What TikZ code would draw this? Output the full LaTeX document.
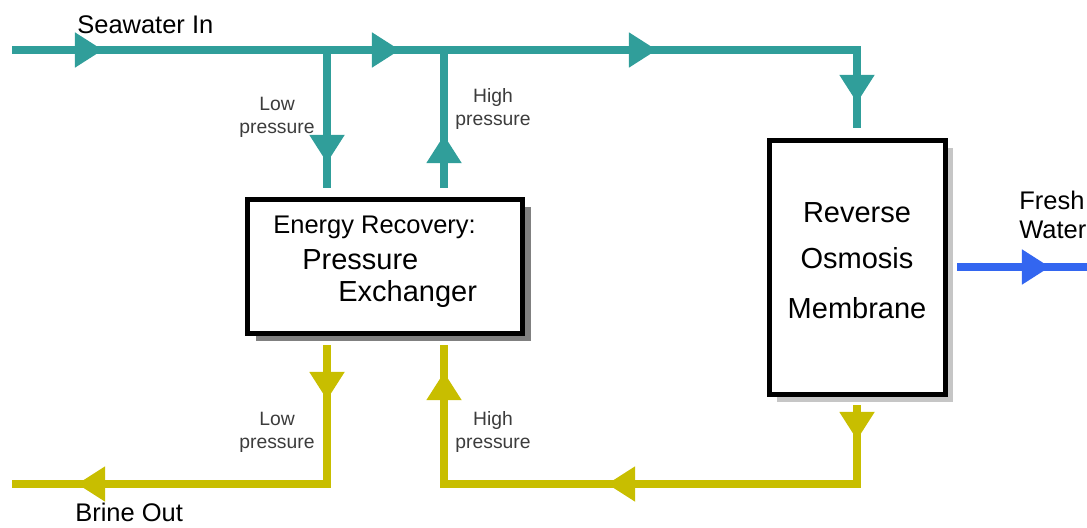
\documentclass[tikz,border=0pt]{standalone}
\usepackage{fontspec}
\setmainfont{Liberation Sans}
\usepackage{xcolor}
\usepackage{tikz}
\usetikzlibrary{arrows.meta,decorations.markings,shadows,positioning}

\definecolor{seateal}{RGB}{48,158,154}
\definecolor{brineyellow}{RGB}{200,190,0}
\definecolor{freshblue}{RGB}{51,102,240}
\definecolor{labelgray}{RGB}{60,60,60}

\begin{document}
\begin{tikzpicture}[
        x=0.02cm, y=-0.02cm,
        boxnode/.style={rectangle, draw=black, line width=2.6pt, fill=white, inner sep=0pt},
        textnode/.style={font=\fontsize{14.5}{17}\selectfont, inner sep=0pt},
        bigtext/.style={font=\fontsize{16.5}{20}\selectfont, inner sep=0pt},
        smalltext/.style={font=\fontsize{11}{13}\selectfont, text=labelgray, align=center, inner sep=0pt},
        pipe/.style={line width=4.3pt},
        flowtip/.style={postaction={decorate, decoration={markings,
            mark=at position #1 with {\arrow{Triangle[length=16pt, width=19pt]}}}}}
    ]
        \useasboundingbox (0,0) rectangle (1087,527);

        % Units
        \node[boxnode, minimum width=5.5cm, minimum height=2.68cm,
            drop shadow={shadow xshift=5pt, shadow yshift=-4pt, fill=gray, opacity=1}] (ER) at (385,266.5) {};
        \node[boxnode, minimum width=3.52cm, minimum height=5.08cm,
            drop shadow={shadow xshift=4pt, shadow yshift=-4pt, fill=gray!45, opacity=1}] (RO) at (857.5,267.5) {};

        \node[textnode, anchor=base west] (ER1) at (273,233) {Energy Recovery:};
        \node[bigtext, anchor=base west] (ER2) at (302,269) {Pressure};
        \node[bigtext, anchor=base west] (ER3) at (338,301) {Exchanger};
        \node[bigtext, anchor=base] (RO1) at (857,222) {Reverse};
        \node[bigtext, anchor=base] (RO2) at (857,268) {Osmosis};
        \node[bigtext, anchor=base] (RO3) at (857,318) {Membrane};

        % Stream names
        \node[textnode, anchor=base west] (sea) at (77,34) {Seawater In};
        \node[textnode, anchor=base west] (brine) at (75,521) {Brine Out};
        \node[textnode, anchor=base west] (fresh) at (1019,209) {Fresh};
        \node[textnode, anchor=base west] (water) at (1019,238) {Water};

        % Pressure labels (base is the lower line)
        \node[smalltext, anchor=base] (lowin) at (277,133) {Low\\pressure};
        \node[smalltext, anchor=base] (highout) at (493,125) {High\\pressure};
        \node[smalltext, anchor=base] (lowout) at (277,448) {Low\\pressure};
        \node[smalltext, anchor=base] (highin) at (493,448) {High\\pressure};

        % Pipe ends and corners
        \coordinate (seain) at (12,50);
        \coordinate (j1) at (327,50);
        \coordinate (j2) at (444,50);
        \coordinate (bend) at (857,50);
        \coordinate (roin) at (857,128);
        \coordinate (erlowin) at (327,188);
        \coordinate (erhighout) at (444,188);
        \coordinate (erlowout) at (327,345);
        \coordinate (erhighin) at (444,345);
        \coordinate (brinecorner) at (327,484);
        \coordinate (brineout) at (12,484);
        \coordinate (roout) at (857,405);
        \coordinate (rocorner) at (857,484);
        \coordinate (ercorner) at (444,484);
        \coordinate (rofresh) at (957,267);
        \coordinate (freshout) at (1087,267);

        % Seawater side
        \draw[pipe, seateal, flowtip=1.82cm] (seain) -- (j1);
        \draw[pipe, seateal, flowtip=1.46cm] (j1) -- (j2);
        \draw[pipe, seateal, flowtip=4.26cm, flowtip=9.32cm] (j2) -- (bend) -- (roin);
        \draw[pipe, seateal, flowtip=2.26cm] (j1) -- (erlowin);
        \draw[pipe, seateal, flowtip=1.06cm] (erhighout) -- (j2);

        % Brine side
        \draw[pipe, brineyellow, flowtip=1.10cm, flowtip=7.78cm] (erlowout) -- (brinecorner) -- (brineout);
        \draw[pipe, brineyellow, flowtip=0.70cm, flowtip=6.58cm, flowtip=12.08cm]
            (roout) -- (rocorner) -- (ercorner) -- (erhighin);

        % Product
        \draw[pipe, freshblue, flowtip=1.86cm] (rofresh) -- (freshout);
\end{tikzpicture}
\end{document}
